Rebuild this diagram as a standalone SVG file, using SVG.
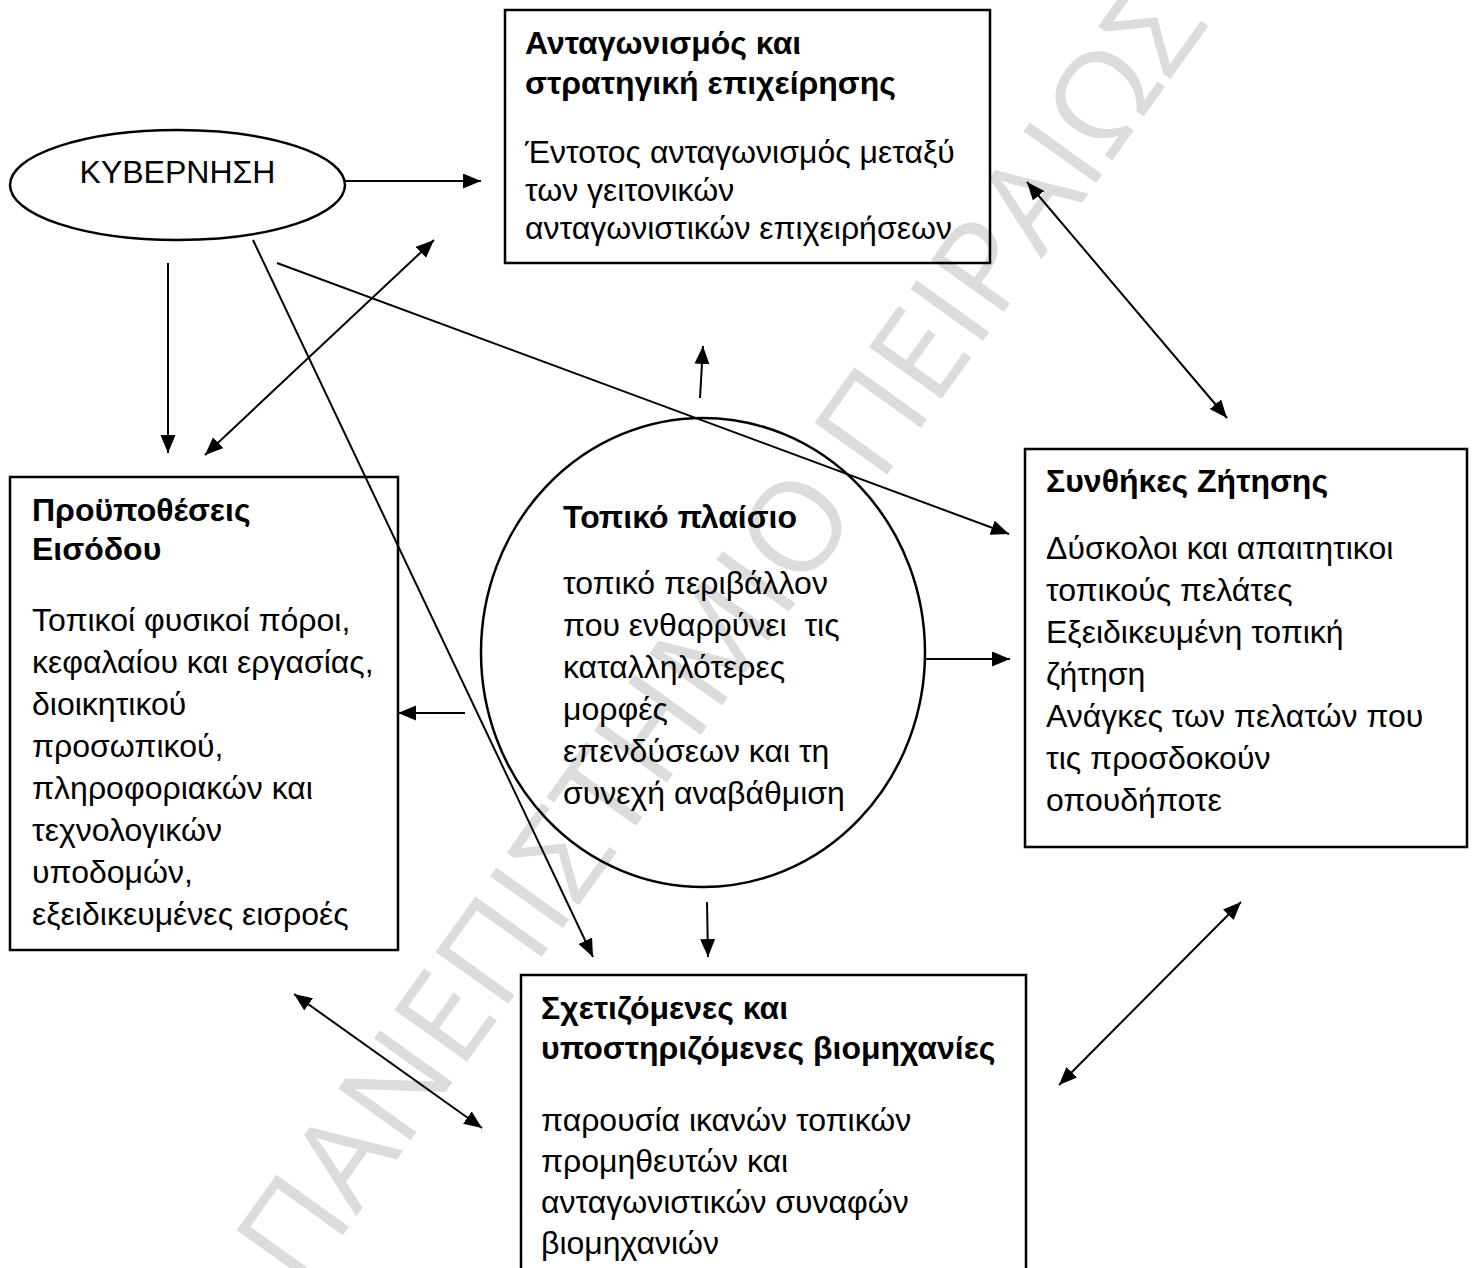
<svg xmlns="http://www.w3.org/2000/svg" width="1474" height="1268" viewBox="0 0 1474 1268">
<style>
.bg{fill:#fff}
.shape{fill:none;stroke:#000;stroke-width:2.5}
.t{font-family:"Liberation Sans",Arial,sans-serif;font-size:32px;fill:#000}
.b{font-weight:bold}
.wm{font-family:"Open Sans","Liberation Sans",sans-serif;font-size:125px;fill:#dcdcdc}
#connectors line{stroke:#000;stroke-width:2;fill:none}
.e{marker-end:url(#ah)}
.d{marker-start:url(#ah);marker-end:url(#ah)}
</style>
<defs>
<marker id="ah" markerUnits="userSpaceOnUse" markerWidth="20" markerHeight="16" refX="18" refY="7.5" orient="auto-start-reverse">
<path d="M0,0 L18,7.5 L0,15 z" fill="#000"/>
</marker>
</defs>
<rect class="bg" width="1474" height="1268"/>
<text class="wm" x="756" y="658" text-anchor="middle" transform="rotate(-54.4 756 658)" textLength="1560" lengthAdjust="spacingAndGlyphs">ΠΑΝΕΠΙΣΤΗΜΙΟ ΠΕΙΡΑΙΩΣ</text>

<g id="kyvernisi">
<ellipse class="shape" cx="177.5" cy="185" rx="167.5" ry="55"/>
<text class="t" x="177.5" y="183" text-anchor="middle">ΚΥΒΕΡΝΗΣΗ</text>
</g>

<g id="antagonismos">
<rect class="shape" x="505" y="10" width="485" height="253"/>
<text class="t b" x="525" y="54">Ανταγωνισμός και</text>
<text class="t b" x="525" y="94">στρατηγική επιχείρησης</text>
<text class="t" x="525" y="163">Έντοτος ανταγωνισμός μεταξύ</text>
<text class="t" x="525" y="201">των γειτονικών</text>
<text class="t" x="525" y="239">ανταγωνιστικών επιχειρήσεων</text>
</g>

<g id="proypotheseis">
<rect class="shape" x="10" y="477" width="388" height="473"/>
<text class="t b" x="32" y="521">Προϋποθέσεις</text>
<text class="t b" x="32" y="560">Εισόδου</text>
<text class="t" x="32" y="631">Τοπικοί φυσικοί πόροι,</text>
<text class="t" x="32" y="673">κεφαλαίου και εργασίας,</text>
<text class="t" x="32" y="715">διοικητικού</text>
<text class="t" x="32" y="757">προσωπικού,</text>
<text class="t" x="32" y="799">πληροφοριακών και</text>
<text class="t" x="32" y="841">τεχνολογικών</text>
<text class="t" x="32" y="883">υποδομών,</text>
<text class="t" x="32" y="925">εξειδικευμένες εισροές</text>
</g>

<g id="topiko">
<ellipse class="shape" cx="703" cy="652.5" rx="222" ry="234.5"/>
<text class="t b" x="563" y="528">Τοπικό πλαίσιο</text>
<text class="t" x="563" y="594">τοπικό περιβάλλον</text>
<text class="t" x="563" y="636" xml:space="preserve" style="white-space:pre">που ενθαρρύνει  τις</text>
<text class="t" x="563" y="678">καταλληλότερες</text>
<text class="t" x="563" y="720">μορφές</text>
<text class="t" x="563" y="762">επενδύσεων και τη</text>
<text class="t" x="563" y="804">συνεχή αναβάθμιση</text>
</g>

<g id="synthikes">
<rect class="shape" x="1025" y="449" width="442" height="398"/>
<text class="t b" x="1046" y="492">Συνθήκες Ζήτησης</text>
<text class="t" x="1046" y="559">Δύσκολοι και απαιτητικοι</text>
<text class="t" x="1046" y="601">τοπικούς πελάτες</text>
<text class="t" x="1046" y="643">Εξειδικευμένη τοπική</text>
<text class="t" x="1046" y="685">ζήτηση</text>
<text class="t" x="1046" y="727">Ανάγκες των πελατών που</text>
<text class="t" x="1046" y="769">τις προσδοκούν</text>
<text class="t" x="1046" y="811">οπουδήποτε</text>
</g>

<g id="sxetizomenes">
<rect class="shape" x="521" y="975" width="505" height="310"/>
<text class="t b" x="541" y="1019">Σχετιζόμενες και</text>
<text class="t b" x="541" y="1059">υποστηριζόμενες βιομηχανίες</text>
<text class="t" x="541" y="1131">παρουσία ικανών τοπικών</text>
<text class="t" x="541" y="1172">προμηθευτών και</text>
<text class="t" x="541" y="1213">ανταγωνιστικών συναφών</text>
<text class="t" x="541" y="1254">βιομηχανιών</text>
</g>

<g id="connectors">
<line class="e" x1="345" y1="181" x2="481" y2="181"/>
<line class="e" x1="168" y1="263" x2="168" y2="453"/>
<line class="d" x1="205" y1="455" x2="434" y2="240"/>
<line class="e" x1="253" y1="240" x2="593" y2="957"/>
<line class="e" x1="277" y1="263" x2="1009" y2="534"/>
<line class="e" x1="700" y1="398" x2="703" y2="346"/>
<line class="d" x1="1027" y1="182" x2="1227" y2="418"/>
<line class="e" x1="465" y1="713" x2="398" y2="713"/>
<line class="e" x1="925" y1="659" x2="1010" y2="659"/>
<line class="e" x1="707" y1="902" x2="708" y2="957"/>
<line class="d" x1="294" y1="994" x2="482" y2="1128"/>
<line class="d" x1="1059" y1="1085" x2="1241" y2="902"/>
</g>
</svg>
